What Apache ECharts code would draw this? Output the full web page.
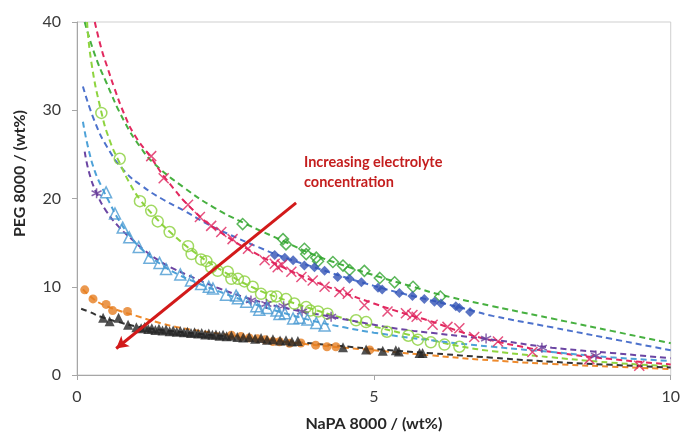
<!DOCTYPE html>
<html>
<head>
<meta charset="utf-8">
<script src="https://cdn.jsdelivr.net/npm/echarts@6/dist/echarts.min.js"></script>
<style>
  html, body { margin: 0; padding: 0; background: #fff; }
  #main { width: 683px; height: 437px; }
</style>
</head>
<body>
<div id="main"></div>
<script>
// measured points, [NaPA wt%, PEG wt%]
const greenDiamonds = [[2.79,17.1],[3.47,15.4],[3.52,14.8],[3.83,14.3],[3.86,13.7],[4.03,13.3],[4.06,12.9],[4.31,12.8],[4.48,12.4],[4.59,11.9],[4.84,11.8],[5.1,11.0],[5.35,10.5],[5.66,10.0],[6.12,8.9]];
const blueDiamonds = [[3.33,13.6],[3.5,13.3],[3.64,13.0],[3.83,12.4],[4.0,12.2],[4.17,11.8],[4.39,11.1],[4.59,10.9],[4.79,10.5],[5.07,9.9],[5.14,9.7],[5.43,9.3],[5.65,8.95],[5.85,8.6],[6.02,8.3],[6.13,8.1],[6.38,7.8],[6.44,7.6],[6.62,7.15]];
const pinkCrosses = [[1.25,24.8],[1.46,22.3],[1.87,19.3],[2.07,17.9],[2.26,16.9],[2.43,16.2],[2.62,15.4],[2.88,14.3],[3.16,13.0],[3.33,12.6],[3.38,12.2],[3.45,12.5],[3.61,11.7],[3.78,11.1],[3.97,10.7],[4.17,10.0],[4.42,9.4],[4.56,9.2],[4.84,7.9],[5.23,7.2],[5.54,7.0],[5.65,6.8],[5.72,6.6],[5.99,5.7],[6.24,5.45],[6.44,5.3],[6.69,4.3],[7.09,3.8],[7.67,2.6],[8.63,1.8],[9.47,1.05]];
const limeCircles = [[0.41,29.7],[0.72,24.5],[1.06,19.7],[1.25,18.6],[1.36,17.4],[1.56,16.2],[1.87,14.6],[1.93,13.7],[2.09,13.1],[2.18,12.9],[2.26,12.2],[2.37,11.8],[2.54,11.7],[2.6,10.9],[2.71,10.9],[2.82,10.6],[2.96,10.0],[3.1,9.2],[3.27,8.9],[3.36,8.9],[3.52,8.6],[3.66,8.1],[3.86,7.7],[3.93,7.3],[4.06,7.2],[4.22,6.95],[4.7,6.2],[4.87,6.0],[5.22,4.9],[5.58,4.45],[5.74,4.0],[5.96,3.7],[6.19,3.45],[6.44,3.2]];
const purpleStars = [[0.33,20.6],[2.93,8.45],[3.19,8.05],[3.48,7.8],[3.79,7.2],[4.28,6.6],[6.89,4.13],[7.83,3.1],[8.74,2.2]];
const lightBlueTriangles = [[0.49,20.7],[0.64,18.3],[0.77,16.7],[0.88,15.6],[1.04,14.5],[1.22,13.3],[1.39,12.7],[1.5,12.0],[1.74,11.4],[1.92,10.7],[2.09,10.3],[2.22,10.0],[2.29,9.8],[2.51,9.1],[2.68,9.0],[2.71,8.7],[2.85,8.3],[3.02,7.8],[3.07,7.4],[3.2,7.6],[3.36,7.3],[3.41,6.9],[3.5,7.0],[3.64,6.4],[3.75,6.5],[3.88,6.3],[4.03,5.9],[4.17,5.6]];
const orangeDots = [[0.13,9.65],[0.27,8.62],[0.49,8.0],[0.6,7.3],[0.85,7.2],[2.6,4.5],[2.76,4.35],[2.9,4.2],[3.04,4.1],[3.17,4.0],[3.3,3.8],[3.41,3.77],[3.58,3.6],[3.77,3.62],[4.02,3.38],[4.21,3.2],[4.36,3.2],[4.93,2.84]];
const blackTriangles = [[0.44,6.5],[0.55,6.1],[0.7,6.5],[0.86,5.7],[1.0,5.4],[1.08,5.3],[1.14,5.45],[1.2,5.2],[1.26,5.3],[1.32,5.1],[1.38,5.25],[1.44,5.05],[1.5,5.15],[1.56,4.95],[1.62,5.05],[1.68,4.9],[1.74,5.0],[1.8,4.85],[1.86,4.9],[1.92,4.75],[1.98,4.85],[2.04,4.7],[2.1,4.75],[2.16,4.6],[2.22,4.7],[2.28,4.55],[2.34,4.6],[2.4,4.45],[2.46,4.55],[2.52,4.4],[2.6,4.45],[2.7,4.3],[2.8,4.25],[2.9,4.3],[3.0,4.1],[3.1,4.2],[3.2,4.0],[3.3,4.05],[3.42,3.9],[3.52,3.95],[3.62,3.8],[3.72,3.85],[4.48,3.15],[4.87,2.9],[5.15,2.75],[5.37,2.8],[5.42,2.65],[5.77,2.5],[5.82,2.5]];

// dashed fit curves
const greenFit = [[0.13,40],[0.3,36.3],[0.49,33.2],[0.8,28.7],[1.08,25.7],[1.31,23.9],[1.81,21.2],[2.3,19.0],[2.79,17.3],[3.5,15.1],[4,13.6],[4.5,12.4],[5.1,11.1],[5.66,10.0],[6.12,9.1],[7,7.8],[8,6.4],[9,5.0],[10,3.6]];
const blueFit = [[0.1,32.7],[0.3,28.7],[0.52,25.7],[0.8,23.1],[1.1,21.4],[1.42,20.0],[1.81,18.6],[2.2,17.1],[2.54,16.0],[3.05,14.5],[3.5,13.3],[4,12.2],[4.5,11.1],[5,10.1],[5.5,9.2],[6,8.4],[6.6,7.4],[7,6.7],[8,5.4],[9,4.1],[10,2.8]];
const pinkFit = [[0.3,40],[0.41,37],[0.52,34.7],[0.63,32.5],[0.8,29.5],[0.97,27.2],[1.25,24.6],[1.5,22.2],[2,18.4],[2.5,15.8],[3,13.8],[3.5,12.1],[4,10.6],[4.5,9.3],[5,8.1],[5.5,7.0],[6,6.0],[6.5,4.8],[7,3.9],[7.5,3.2],[8,2.6],[9,1.8],[10,1.2]];
const limeFit = [[0.17,40],[0.24,35.5],[0.41,29.8],[0.55,26.6],[0.72,24.0],[0.89,21.7],[1.06,19.9],[1.3,18.0],[1.6,16.0],[2,13.8],[2.5,11.6],[3,9.8],[3.5,8.5],[4,7.4],[4.5,6.4],[5,5.5],[5.5,4.7],[6,3.9],[6.5,3.2],[7,2.7],[8,2.0],[9,1.4],[10,1.0]];
const purpleFit = [[0.13,25.3],[0.21,22.8],[0.33,20.6],[0.49,18.6],[0.69,16.9],[0.92,15.4],[1.14,14.1],[1.42,12.8],[1.64,12.0],[1.87,11.3],[2.4,9.8],[2.93,8.6],[3.5,7.6],[4.28,6.6],[5,5.7],[5.5,5.15],[6,4.75],[7,4.0],[8,3.1],[9,2.5],[10,1.9]];
const lightBlueFit = [[0.1,28.7],[0.19,25.7],[0.3,23.1],[0.41,21.4],[0.55,19.5],[0.7,17.6],[0.9,15.7],[1.1,14.2],[1.4,12.6],[1.7,11.4],[2,10.5],[2.5,9.2],[3,8.0],[3.5,7.0],[4,6.1],[4.5,5.4],[5,4.8],[6,3.9],[7,3.2],[8,2.6],[9,2.0],[10,1.6]];
const orangeFit = [[0.1,9.7],[0.3,8.5],[0.5,7.8],[0.75,7.2],[1,6.7],[1.34,6.0],[1.67,5.45],[2.07,5.0],[2.6,4.5],[3,4.15],[3.5,3.75],[4,3.4],[4.5,3.1],[5,2.8],[6,2.2],[7,1.65],[8,1.25],[9,0.95],[10,0.68]];
const blackFit = [[0.07,7.5],[0.21,7.15],[0.4,6.6],[0.7,6.0],[1,5.5],[1.5,5.05],[2,4.7],[2.5,4.4],[3,4.1],[3.5,3.85],[4,3.55],[4.5,3.25],[5,2.95],[6,2.45],[7,1.95],[8,1.5],[9,1.15],[10,0.85]];

// arrow, tail -> head
const arrowTail = [3.69, 19.5];
const arrowHead = [0.66, 3.0];

const xTicks = [0, 10, 5];   // min, max, interval
const yTicks = [0, 40, 10];

const crossPath = 'path://M0,0L10,10M10,0L0,10';
const starPath = 'path://M5,0L5,10M0.7,2.5L9.3,7.5M9.3,2.5L0.7,7.5';

function fit(data, color) {
  return {
    type: 'line', data: data, smooth: true, showSymbol: false, silent: true, z: 1,
    lineStyle: { color: color, width: 2, type: [6, 4] }
  };
}
function dots(data, symbol, size, color, open) {
  return {
    type: 'scatter', data: data, symbol: symbol, symbolSize: size, z: 3,
    itemStyle: open
      ? { color: 'rgba(0,0,0,0)', borderColor: color, borderWidth: 1.5 }
      : { color: color }
  };
}

var chart = echarts.init(document.getElementById('main'));
chart.setOption({
  animation: false,
  backgroundColor: '#fff',
  textStyle: { fontFamily: 'Lato' },
  grid: { left: 77, right: 11, top: 22, bottom: 60, show: true, borderColor: '#cfcfcf', borderWidth: 1 },
  xAxis: {
    type: 'value', min: xTicks[0], max: xTicks[1], interval: xTicks[2],
    name: 'NaPA 8000 / (wt%)', nameLocation: 'middle', nameGap: 41,
    nameTextStyle: { fontFamily: 'Lato', fontWeight: 'bold', fontSize: 16, color: '#262626' },
    axisLine: { show: true, lineStyle: { color: '#a6a6a6' } },
    axisTick: { show: true, inside: false, length: 5, lineStyle: { color: '#a6a6a6' } },
    axisLabel: { margin: 14, fontSize: 16, color: '#3a3a3a', fontFamily: 'Lato' },
    splitLine: { show: false }
  },
  yAxis: {
    type: 'value', min: yTicks[0], max: yTicks[1], interval: yTicks[2],
    axisLine: { show: true, lineStyle: { color: '#a6a6a6' } },
    axisTick: { show: true, inside: false, length: 5, lineStyle: { color: '#a6a6a6' } },
    axisLabel: { margin: 16, fontSize: 16, color: '#3a3a3a', fontFamily: 'Lato' },
    splitLine: { show: false }
  },
  graphic: [
    {
      type: 'text', left: 12, top: 110, rotation: Math.PI / 2,
      style: { text: 'PEG 8000 / (wt%)', font: 'bold 16px Lato', fill: '#262626' }
    },
    {
      type: 'text', left: 304, top: 152, z: 100,
      style: { text: 'Increasing electrolyte\nconcentration', font: 'bold 14.5px Lato', fill: '#c41e1e', lineHeight: 20 }
    }
  ],
  series: [
    fit(greenFit, '#47b040'),
    fit(blueFit, '#4d72cc'),
    fit(pinkFit, '#e2295f'),
    fit(limeFit, '#8ed43f'),
    fit(purpleFit, '#6b45a3'),
    fit(lightBlueFit, '#4ea2d8'),
    fit(orangeFit, '#ee8a2c'),
    fit(blackFit, '#333333'),
    dots(greenDiamonds, 'diamond', 11, '#33a532', true),
    dots(blueDiamonds, 'diamond', 10, '#3253b5', false),
    dots(pinkCrosses, crossPath, 10, '#e0245e', true),
    dots(limeCircles, 'circle', 11, '#8ad03a', true),
    dots(purpleStars, starPath, 10, '#6a3d9a', true),
    dots(lightBlueTriangles, 'triangle', 11, '#4a9ad2', true),
    dots(orangeDots, 'circle', 9, '#e67e22', false),
    dots(blackTriangles, 'triangle', 10, '#262626', false),
    {
      type: 'line', data: [], z: 10, silent: true,
      markLine: {
        silent: true, symbol: ['none', 'arrow'], symbolSize: [10, 12],
        label: { show: false },
        lineStyle: { color: '#d21a1a', width: 3, type: 'solid' },
        data: [[{ coord: arrowTail }, { coord: arrowHead }]]
      }
    }
  ]
});
</script>
</body>
</html>
